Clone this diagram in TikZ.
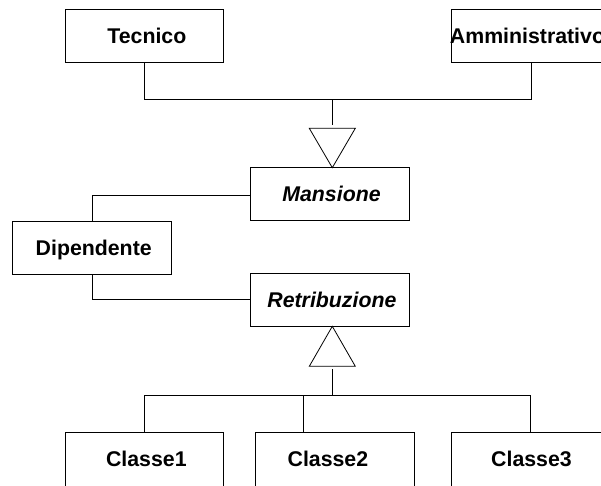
\documentclass[tikz,border=0pt]{standalone}
\usepackage{fontspec}
\setmainfont{Liberation Sans}
\begin{document}
\begin{tikzpicture}[x=1pt, y=-1pt, line width=0.8pt,
  classbox/.style={draw, minimum width=158.7pt, minimum height=53pt, inner sep=0pt},
  lbl/.style={inner sep=0pt, text height=15.2pt, text depth=0pt,
    font=\fontsize{21.3}{25}\selectfont\bfseries},
  abstract/.style={lbl, font=\fontsize{21.3}{25}\selectfont\bfseries\itshape},
  gen/.style={draw, line join=miter}]
\useasboundingbox (0,0) rectangle (601,485);
\clip (0,0) rectangle (601,485);

% classes
\node[classbox, label={[lbl, name=tTec, xshift=2.5pt]center:Tecnico}] (tec) at (144.35,35.8) {};
\node[classbox, label={[lbl, name=tAmm, xshift=-3.5pt]center:Amministrativo}] (amm) at (531,35.8) {};
\node[classbox, label={[abstract, name=tMan, xshift=1.6pt]center:Mansione}] (man) at (329.9,194.2) {};
\node[classbox, label={[lbl, name=tDip, xshift=1.7pt]center:Dipendente}] (dip) at (92,247.4) {};
\node[classbox, label={[abstract, name=tRet, xshift=2pt]center:Retribuzione}] (ret) at (329.9,299.8) {};
% bottom row runs past the lower edge
\begin{scope}[classbox/.append style={minimum height=60pt}]
\node[classbox, label={[lbl, name=tC1, xshift=2pt, yshift=3pt]center:Classe1}] (c1) at (144.35,462.3) {};
\node[classbox, label={[lbl, name=tC2, xshift=-7pt, yshift=3pt]center:Classe2}] (c2) at (334.9,462.3) {};
\node[classbox, label={[lbl, name=tC3, xshift=0.5pt, yshift=3pt]center:Classe3}] (c3) at (531,462.3) {};
\end{scope}

% generalisation of Mansione
\coordinate (mApex) at (332.3,167.7);
\coordinate (mBaseL) at (309.3,128.3);
\coordinate (mBaseR) at (355.3,128.3);
\coordinate (mTail) at (332.3,125.3);
\coordinate (mJoin) at (332.3,99);
\draw[gen] (mApex) -- (mBaseL) -- (mBaseR) -- cycle;
\draw (tec.south -| 144.7,0) |- (mJoin);
\draw (amm.south -| 531,0) |- (mJoin);
\draw (mJoin) -- (mTail);

% associations of Dipendente
\draw (man.west |- 0,195) -| (dip.north -| 92,0);
\draw (dip.south -| 92,0) |- (ret.west |- 0,299.3);

% generalisation of Retribuzione
\coordinate (rApex) at (332.3,326.3);
\coordinate (rBaseL) at (309.3,366.3);
\coordinate (rBaseR) at (355.3,366.3);
\coordinate (rTail) at (332.3,369.3);
\coordinate (rJoin) at (332.3,395.5);
\draw[gen] (rApex) -- (rBaseL) -- (rBaseR) -- cycle;
\draw (rTail) -- (rJoin);
\draw (c1.north -| 144.7,0) |- (rJoin);
\draw (c3.north -| 530.7,0) |- (rJoin);
\draw (c2.north -| 303.3,0) -- (303.3,395.5);
\end{tikzpicture}
\end{document}
